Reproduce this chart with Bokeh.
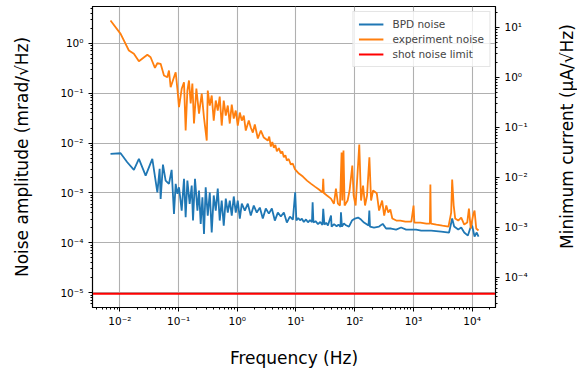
import math
from bokeh.plotting import figure
from bokeh.layouts import row
from bokeh.models import Range1d, LogAxis, FixedTicker, CustomJSTickFormatter
from bokeh.core.properties import value
from bokeh.embed import file_html
from bokeh.resources import INLINE

# ---------------- data ----------------
freq_exp = [0.00693, 0.0103, 0.01425, 0.01734, 0.0211, 0.0294, 0.0334, 0.0396, 0.0435, 0.0495,
            0.0564, 0.0644, 0.0686, 0.0733, 0.0835, 0.0893, 0.0955, 0.1017, 0.113, 0.1237,
            0.132, 0.1413, 0.1504, 0.1607, 0.1718, 0.183, 0.201, 0.223, 0.248, 0.271,
            0.302, 0.314, 0.340, 0.367, 0.397, 0.430, 0.465, 0.502, 0.543, 0.588,
            0.637, 0.689, 0.745, 0.805, 0.871, 0.942, 1.019, 1.104, 1.194, 1.291,
            1.396, 1.571, 1.698, 1.84, 1.99, 2.24, 2.52, 2.83, 3.31, 3.5,
            3.73, 3.95, 4.20, 4.45, 4.72, 5.1, 5.52, 5.85, 6.21, 6.6,
            6.99, 7.5, 8.18, 8.8, 9.57, 11.2, 13.1, 15.4,
            17.9, 21.0, 24.6, 28.4, 29.1, 29.8, 33.7, 39.4, 44.3, 47.9,
            51.8, 56.1, 59.8, 61.5, 64.4, 67.3, 75.7, 81.8, 91.0, 95.9,
            103.7, 119.6, 128.2, 138.7, 150, 162.2, 177.8, 190, 205.6, 237.4,
            260, 293, 318, 345, 373, 404, 437, 511, 598, 728,
            922, 1006, 1038, 1313, 1663, 1909, 1945, 1985, 2464, 3124,
            3955, 4396, 4571, 4853, 5150, 5796, 6520, 7335, 8253, 8818,
            9460, 10430, 10990, 11750, 12850]
amp_exp = [2.85, 1.54, 0.714, 0.613, 0.436, 0.586, 0.524, 0.321, 0.397, 0.386,
           0.225, 0.208, 0.284, 0.131, 0.208, 0.262, 0.122, 0.0522, 0.122, 0.165,
           0.0178, 0.1128, 0.179, 0.0619, 0.156, 0.0246, 0.1236, 0.039, 0.0982, 0.0324,
           0.0112, 0.1128, 0.0565, 0.0895, 0.0282, 0.0711, 0.0448, 0.0855, 0.0224, 0.0711,
           0.0356, 0.0565, 0.0246, 0.0591, 0.031, 0.0448, 0.0224, 0.0408, 0.0282, 0.0356,
           0.0178, 0.0282, 0.0205, 0.0162, 0.0235, 0.0123, 0.0178, 0.0129, 0.0112, 0.0135,
           0.0085, 0.0105, 0.0080, 0.0092, 0.0068, 0.0079, 0.0062, 0.0068, 0.0052, 0.0057,
           0.00445, 0.0048, 0.0037, 0.0039, 0.0030, 0.00245, 0.00213, 0.00177,
           0.00154, 0.00134, 0.00117, 0.00102, 0.00192, 0.00100, 0.00089, 0.00077, 0.00061, 0.00122,
           0.00061, 0.00056, 0.00645, 0.000705, 0.00708, 0.00056, 0.000705, 0.00112, 0.00354, 0.00089,
           0.00056, 0.00933, 0.000705, 0.00141, 0.00056, 0.00089, 0.00519, 0.000705, 0.00112, 0.00099,
           0.000444, 0.000705, 0.000352, 0.00056, 0.000405, 0.000465, 0.000307, 0.00028, 0.00028, 0.000267,
           0.000267, 0.000558, 0.000255, 0.000255, 0.000244, 0.000244, 0.00147, 0.000244, 0.000233, 0.000222,
           0.000212, 0.000405, 0.00186, 0.000558, 0.000307, 0.00028, 0.000321, 0.000233, 0.000255, 0.000487,
           0.000194, 0.000369, 0.000444, 0.000194, 0.000177]

freq_bpd = [0.00693, 0.0103, 0.01337, 0.01734, 0.0211, 0.0275, 0.0357, 0.0435, 0.0476, 0.0495,
            0.0542, 0.0602, 0.0686, 0.0762, 0.0835, 0.0893, 0.0955, 0.1017, 0.113, 0.1237,
            0.132, 0.1413, 0.1545, 0.1674, 0.1762, 0.1905, 0.2094, 0.223, 0.2382, 0.2547,
            0.271, 0.2897, 0.314, 0.340, 0.367, 0.397, 0.430, 0.465, 0.502, 0.543,
            0.588, 0.637, 0.689, 0.745, 0.805, 0.871, 0.942, 1.019, 1.104, 1.194,
            1.343, 1.511, 1.698, 1.91, 2.15, 2.42, 2.72, 3.06, 3.45, 3.88,
            4.36, 4.91, 5.52, 6.21, 6.99, 7.87, 8.85, 9.68, 10.16, 10.9,
            11.7, 12.6, 13.6, 14.8, 16.0, 17.3, 18.7, 19.2, 19.8, 21.5,
            23.7, 25.9, 28.2, 29.1, 30.5, 32.7, 35.0, 39.5, 40.4, 44.5,
            49.2, 53.0, 57.3, 58.3, 60.6, 65.5, 71.0, 79.8, 89.8, 101,
            114, 128, 144, 172, 177.4, 182, 213, 260, 300, 342,
            417, 507, 617, 751, 914, 1112, 1355, 2006, 2972, 4050,
            4571, 4943, 5796, 6520, 7335, 8472, 9250, 10000, 10990, 11970,
            12850]
amp_bpd = [0.00608, 0.00625, 0.00412, 0.0029, 0.00482, 0.00223, 0.00482, 0.00103, 0.00304, 0.00076,
           0.00371, 0.00177, 0.00152, 0.0029, 0.00038, 0.00152, 0.00096, 0.0013, 0.000444, 0.00192,
           0.000326, 0.00177, 0.000605, 0.00141, 0.00028, 0.00192, 0.000444, 0.00112, 0.00024, 0.00082,
           0.000151, 0.0013, 0.000352, 0.00102, 0.000161, 0.00089, 0.000444, 0.00122, 0.00028, 0.000705,
           0.000222, 0.00077, 0.000405, 0.000705, 0.000352, 0.00085, 0.000405, 0.000705, 0.000307, 0.00061,
           0.000444, 0.00061, 0.000352, 0.000558, 0.000405, 0.000509, 0.000307, 0.000487, 0.000386, 0.000487,
           0.00028, 0.000405, 0.000337, 0.000405, 0.000255, 0.000337, 0.000293, 0.00103, 0.00028, 0.000315,
           0.000285, 0.000305, 0.000262, 0.000295, 0.000258, 0.000285, 0.000262, 0.000651, 0.000255, 0.000272,
           0.000238, 0.000262, 0.000228, 0.00048, 0.000233, 0.000252, 0.000222, 0.000352, 0.000212, 0.000238,
           0.000215, 0.000232, 0.000208, 0.00041, 0.000212, 0.000245, 0.000225, 0.000212, 0.00028, 0.000307,
           0.000321, 0.000293, 0.000255, 0.000222, 0.000444, 0.000212, 0.000203, 0.000212, 0.00024, 0.000194,
           0.000194, 0.000185, 0.000203, 0.000185, 0.000185, 0.000185, 0.000176, 0.000176, 0.000168, 0.000161,
           0.000307, 0.000212, 0.000185, 0.000203, 0.000161, 0.00014, 0.000194, 0.000222, 0.000134, 0.000161,
           0.000134]

shot_noise = 9.6e-6            # mrad/sqrt(Hz)
current_per_mrad = 4.84        # right-axis scale factor

x_ticks = [1e-2, 1e-1, 1e0, 1e1, 1e2, 1e3, 1e4]
y_ticks = [1e-5, 1e-4, 1e-3, 1e-2, 1e-1, 1e0]
y2_ticks = [1e-4, 1e-3, 1e-2, 1e-1, 1e0, 1e1]

series_labels = ["BPD noise", "experiment noise", "shot noise limit"]
x_label = "Frequency (Hz)"
y_label = "Noise amplitude (mrad/\u221aHz)"
y2_label = "Minimum current (\u03bcA/\u221aHz)"

# ---------------- figure ----------------
FONT = "DejaVu Sans"
x_lo, x_hi = 10 ** -2.466, 10 ** 4.398
y_lo, y_hi = 10 ** -5.2946, 10 ** 0.7355


def minors(major):
    out = []
    for m in [major[0] / 10] + major:
        for k in range(2, 10):
            out.append(m * k)
    return out


fmt = CustomJSTickFormatter(code="""
const sup = {"-":"\u207b","0":"\u2070","1":"\u00b9","2":"\u00b2","3":"\u00b3","4":"\u2074",
             "5":"\u2075","6":"\u2076","7":"\u2077","8":"\u2078","9":"\u2079"};
const e = Math.round(Math.log10(tick));
return "10" + String(e).split("").map(c => sup[c]).join("");
""")

p = figure(width=555, height=375, x_axis_type="log", y_axis_type="log",
           x_range=Range1d(x_lo, x_hi), y_range=Range1d(y_lo, y_hi),
           output_backend="svg", toolbar_location=None,
           min_border_left=92, min_border_right=60, min_border_top=6, min_border_bottom=68)
p.extra_y_ranges = {"cur": Range1d(y_lo * current_per_mrad, y_hi * current_per_mrad)}

p.line(freq_bpd, amp_bpd, line_color="#1f77b4", line_width=1.8, legend_label=series_labels[0])
p.line(freq_exp, amp_exp, line_color="#ff7f0e", line_width=1.8, legend_label=series_labels[1])
p.line([x_lo, x_hi], [shot_noise, shot_noise], line_color="red", line_width=2,
       legend_label=series_labels[2])

right = LogAxis(y_range_name="cur")
p.add_layout(right, "right")

for ax, ticks in ((p.xaxis[0], x_ticks), (p.yaxis[0], y_ticks), (right, y2_ticks)):
    ax.ticker = FixedTicker(ticks=ticks, minor_ticks=minors(ticks))
    ax.formatter = fmt
    ax.major_label_text_font = FONT
    ax.major_label_text_font_size = "10.5px"
    ax.major_label_text_color = "black"
    ax.axis_label_text_font = FONT
    ax.axis_label_text_font_size = "17px"
    ax.axis_label_text_font_style = "normal"
    ax.axis_label_text_color = "black"
    ax.axis_line_color = "black"
    ax.major_tick_line_color = "black"
    ax.minor_tick_line_color = "black"
    ax.major_tick_in = 0
    ax.major_tick_out = 4
    ax.minor_tick_in = 0
    ax.minor_tick_out = 2
    ax.major_label_standoff = 5

p.xaxis[0].major_label_standoff = 3
p.xaxis[0].axis_label = x_label
p.xaxis[0].axis_label_standoff = 18
p.yaxis[0].axis_label = y_label
p.yaxis[0].axis_label_standoff = 25

p.xgrid.ticker = FixedTicker(ticks=x_ticks)
p.ygrid.ticker = FixedTicker(ticks=y_ticks)
p.grid.grid_line_color = "#b0b0b0"
p.grid.grid_line_width = 1.1
p.outline_line_color = "black"
p.outline_line_width = 1.2

lg = p.legend[0]
lg.location = "top_right"
lg.margin = 5
lg.padding = 5
lg.spacing = 1
lg.glyph_width = 25
lg.glyph_height = 14
lg.label_height = 14
lg.label_standoff = 9
lg.label_text_font = FONT
lg.label_text_font_size = "10.5px"
lg.border_line_color = "#cccccc"
lg.border_line_width = 1
lg.background_fill_alpha = 0.8

# narrow strip holding the right-hand axis title (reads bottom-to-top)
t = figure(width=22, height=375, x_range=Range1d(0, 1), y_range=Range1d(0, 375),
           output_backend="svg", toolbar_location=None, x_axis_location=None,
           y_axis_location=None, min_border=0, outline_line_color=None)
t.grid.visible = False
t.text(x=[0.5], y=[375 - 162], text=[y2_label], angle=math.pi / 2,
       text_align="center", text_baseline="middle", text_font=value(FONT),
       text_font_size="17px", text_color="black")

layout = row(p, t, spacing=0)
open("out.html", "w").write(file_html(layout, INLINE))
